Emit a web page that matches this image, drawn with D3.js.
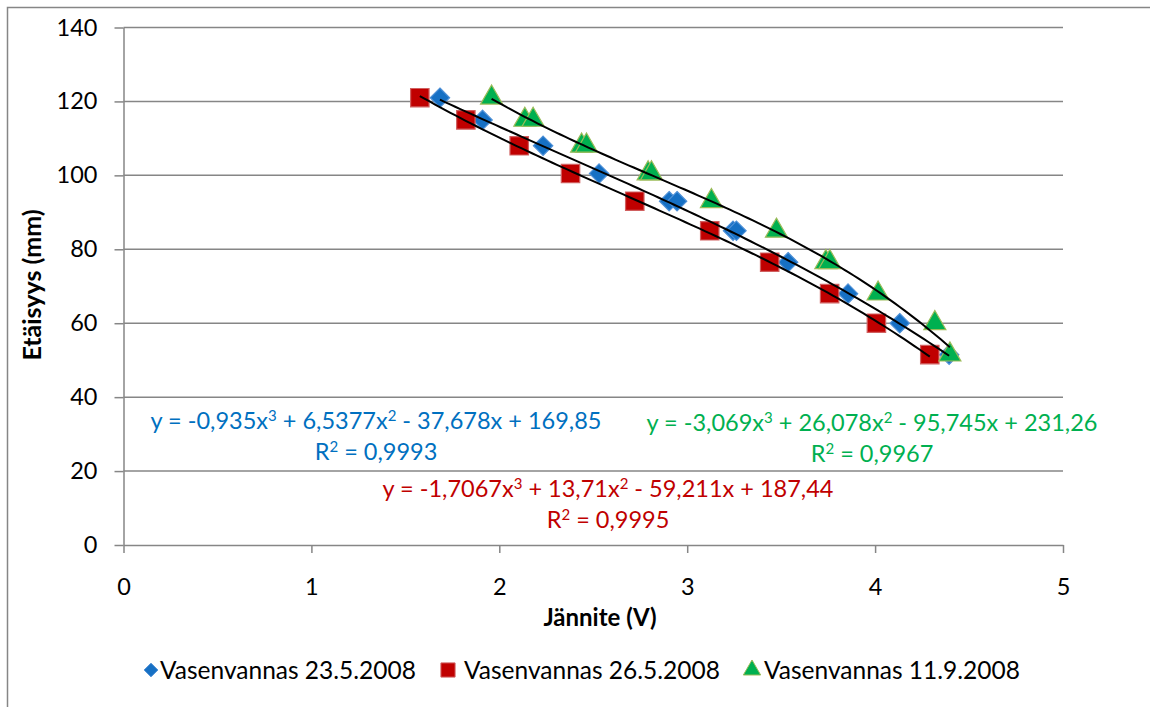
<!DOCTYPE html>
<html>
<head>
<meta charset="utf-8">
<script src="https://cdn.jsdelivr.net/npm/d3@7"></script>
<style>
  body { margin: 0; background: #fff; }
  text { font-family: Lato, "Open Sans", sans-serif; }
</style>
</head>
<body>
<div id="chart"></div>
<script>
/* Data */
const seriesNames = ["Vasenvannas 23.5.2008", "Vasenvannas 26.5.2008", "Vasenvannas 11.9.2008"];

const blueX = [1.684, 1.911, 2.233, 2.531, 2.904, 2.946, 3.244, 3.262, 3.537, 3.856, 4.131, 4.394];
const blueY = [121, 115, 108, 100.5, 93, 93, 85, 85, 76.5, 68, 60, 51.5];

const redX = [1.577, 1.822, 2.106, 2.379, 2.721, 3.12, 3.439, 3.758, 4.007, 4.291];
const redY = [121, 115, 108, 100.5, 93, 85, 76.5, 68, 60, 51.5];

const greenX = [1.959, 2.136, 2.180, 2.438, 2.464, 2.792, 2.810, 3.129, 3.475, 3.738, 3.759, 4.016, 4.318, 4.398];
const greenY = [121, 115, 115, 108, 108, 100.5, 100.5, 93, 85, 76.5, 76.5, 68, 60, 51.5];

// trend line coefficients (a3, a2, a1, a0) as printed on the chart
const blueCoef = [-0.935, 6.5377, -37.678, 169.85];
const redCoef = [-1.7067, 13.71, -59.211, 187.44];
const greenCoef = [-3.069, 26.078, -95.745, 231.26];

const blueEq = ["y = -0,935x³ + 6,5377x² - 37,678x + 169,85", "R² = 0,9993"];
const redEq = ["y = -1,7067x³ + 13,71x² - 59,211x + 187,44", "R² = 0,9995"];
const greenEq = ["y = -3,069x³ + 26,078x² - 95,745x + 231,26", "R² = 0,9967"];

const xTicks = [0, 1, 2, 3, 4, 5];
const yTicks = [0, 20, 40, 60, 80, 100, 120, 140];

/* Dimensions */
const width = 1150, height = 707;
const margin = { top: 27.5, right: 87, bottom: 162, left: 123.5 };
const gridColor = "#868686";

const svg = d3.select("#chart").append("svg")
  .attr("width", width)
  .attr("height", height);

// chart border (only left and top visible in the crop)
svg.append("rect")
  .attr("x", 7.5).attr("y", 7.5)
  .attr("width", width + 20).attr("height", height + 20)
  .attr("fill", "#fff")
  .attr("stroke", "#868686")
  .attr("stroke-width", 1.5);

/* Scales */
const x = d3.scaleLinear().domain([0, 5]).range([margin.left, width - margin.right]);
const y = d3.scaleLinear().domain([0, 140]).range([height - margin.bottom, margin.top]);

// horizontal gridlines
svg.append("g")
  .selectAll("line")
  .data(yTicks.filter(d => d > 0))
  .enter().append("line")
  .attr("x1", x(0)).attr("x2", x(5))
  .attr("y1", d => y(d)).attr("y2", d => y(d))
  .attr("stroke", gridColor)
  .attr("stroke-width", 1.5);

/* Axes */
const yAxis = svg.append("g")
  .attr("transform", `translate(${x(0)},0)`)
  .call(d3.axisLeft(y).tickValues(yTicks).tickSize(9).tickSizeOuter(0).tickPadding(17));
const xAxis = svg.append("g")
  .attr("transform", `translate(0,${y(0)})`)
  .call(d3.axisBottom(x).tickValues(xTicks).tickFormat(d3.format("d"))
    .tickSize(8).tickSizeOuter(0).tickPadding(25));

[xAxis, yAxis].forEach(g => {
  g.select(".domain").attr("stroke", gridColor).attr("stroke-width", 1.5);
  g.selectAll(".tick line").attr("stroke", gridColor).attr("stroke-width", 1.5);
  g.selectAll(".tick text")
    .attr("fill", "#000")
    .style("font-family", "Lato, sans-serif")
    .style("font-size", "23.5px");
});

/* Markers */
const diamond = d3.symbol().type(d3.symbolDiamond2).size(240);
const square = d3.symbol().type(d3.symbolSquare).size(340);
const triangle = d3.symbol().type(d3.symbolTriangle).size(210);

function drawPoints(xs, ys, sym, fill, stroke) {
  svg.append("g")
    .selectAll("path")
    .data(xs.map((v, i) => [v, ys[i]]))
    .enter().append("path")
    .attr("d", sym)
    .attr("transform", d => `translate(${x(d[0])},${y(d[1])})`)
    .attr("fill", fill)
    .attr("stroke", stroke)
    .attr("stroke-width", 1.2);
}

drawPoints(blueX, blueY, diamond, "#1670C4", "#4D8FD6");
drawPoints(redX, redY, square, "#C00000", "#D06060");
drawPoints(greenX, greenY, triangle, "#00B050", "#9BBB59");

/* Trend lines */
function poly(c, v) {
  return c[0] * v * v * v + c[1] * v * v + c[2] * v + c[3];
}
const line = d3.line().x(d => x(d[0])).y(d => y(d[1]));

[[blueX, blueCoef], [redX, redCoef], [greenX, greenCoef]].forEach(([xs, coef]) => {
  const lo = d3.min(xs), hi = d3.max(xs);
  const pts = d3.range(0, 101).map(i => {
    const v = lo + (hi - lo) * i / 100;
    return [v, poly(coef, v)];
  });
  svg.append("path")
    .attr("d", line(pts))
    .attr("fill", "none")
    .attr("stroke", "#000")
    .attr("stroke-width", 2);
});

/* Equation labels */
// write a string, turning ² and ³ into raised small digits
function writeSup(textSel, str) {
  const parts = str.split(/([²³])/);
  let back = 0;
  parts.forEach(p => {
    if (p === "²" || p === "³") {
      textSel.append("tspan")
        .attr("dy", -8)
        .style("font-size", "15px")
        .text(p === "²" ? "2" : "3");
      back = 8;
    } else if (p.length) {
      textSel.append("tspan").attr("dy", back).text(p);
      back = 0;
    }
  });
}

function eqLabel(lines, cx, cy, color) {
  lines.forEach((l, i) => {
    const t = svg.append("text")
      .attr("x", cx).attr("y", cy + i * 31)
      .attr("text-anchor", "middle")
      .attr("fill", color)
      .style("font-size", "23.5px");
    writeSup(t, l);
  });
}
eqLabel(blueEq, 376, 429, "#0070C0");
eqLabel(redEq, 608, 497, "#C00000");
eqLabel(greenEq, 872, 431, "#00B050");

/* Axis titles */
svg.append("text")
  .attr("x", 600).attr("y", 626)
  .attr("text-anchor", "middle")
  .style("font-size", "24px")
  .style("font-weight", "bold")
  .text("Jännite (V)");

svg.append("text")
  .attr("transform", "rotate(-90)")
  .attr("x", -285).attr("y", 41)
  .attr("text-anchor", "middle")
  .style("font-size", "25px")
  .style("font-weight", "bold")
  .text("Etäisyys (mm)");

/* Legend */
const legendItems = [
  { name: seriesNames[0], sym: d3.symbol().type(d3.symbolDiamond2).size(120), fill: "#1670C4", stroke: "#4D8FD6", mx: 151, tx: 160 },
  { name: seriesNames[1], sym: d3.symbol().type(d3.symbolSquare).size(200), fill: "#C00000", stroke: "#D06060", mx: 448, tx: 464 },
  { name: seriesNames[2], sym: d3.symbol().type(d3.symbolTriangle).size(130), fill: "#00B050", stroke: "#9BBB59", mx: 752, tx: 764 }
];
const legend = svg.append("g");
legendItems.forEach(d => {
  legend.append("path")
    .attr("d", d.sym)
    .attr("transform", `translate(${d.mx},670)`)
    .attr("fill", d.fill)
    .attr("stroke", d.stroke)
    .attr("stroke-width", 1);
  legend.append("text")
    .attr("x", d.tx).attr("y", 679)
    .style("font-size", "24.5px")
    .text(d.name);
});
</script>
</body>
</html>
